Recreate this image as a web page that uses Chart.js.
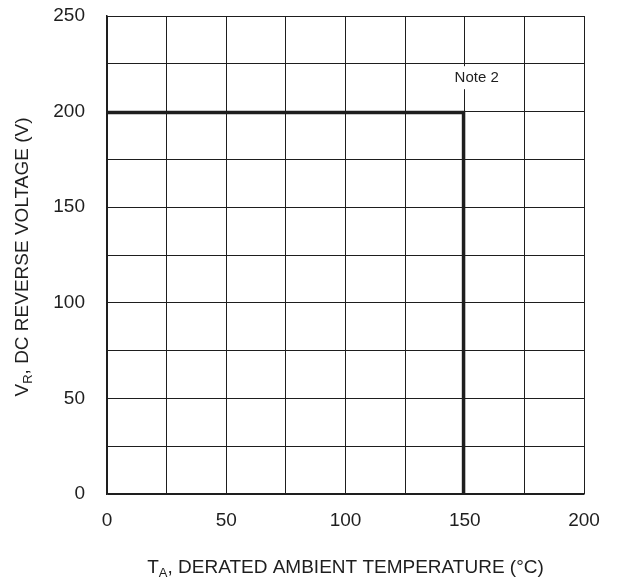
<!DOCTYPE html>
<html lang="en">
<head>
<meta charset="UTF-8">
<title>Derating curve</title>
<script src="https://cdn.jsdelivr.net/npm/chart.js@4/dist/chart.umd.min.js"></script>
<style>
  body { margin: 0; background: #fff; }
</style>
</head>
<body>
<canvas id="myChart" width="618" height="577"></canvas>
<script>
// curve data
var tempC = [0, 149.5, 149.5];
var voltV = [199.5, 199.5, 0];

// axis ranges / ticks
var xMin = 0, xMax = 200, xStep = 25, xLabelEvery = 50;
var yMin = 0, yMax = 250, yStep = 25, yLabelEvery = 50;

// note text and where it sits (data units)
var noteText = 'Note 2';
var noteX = 155, noteY = 218;

var FONT = '"Liberation Sans", Arial, Helvetica, sans-serif';
var INK = '#1e1e1e';

var pts = [];
for (var i = 0; i < tempC.length; i++) pts.push({x: tempC[i], y: voltV[i]});

// draw text with a subscript part, centered at 0,0 of current transform
function drawRich(ctx, parts, size) {
    var subSize = Math.round(size * 0.66);
    var w = 0;
    parts.forEach(function(p) {
        ctx.font = (p.sub ? subSize : size) + 'px ' + FONT;
        p.w = ctx.measureText(p.t).width;
        w += p.w;
    });
    var x = -w / 2;
    ctx.textBaseline = 'alphabetic';
    ctx.textAlign = 'left';
    parts.forEach(function(p) {
        ctx.font = (p.sub ? subSize : size) + 'px ' + FONT;
        ctx.fillText(p.t, x, p.sub ? 4 : 0);
        x += p.w;
    });
}

var titlesPlugin = {
    id: 'titles',
    afterDraw: function(chart) {
        var ctx = chart.ctx;
        var a = chart.chartArea;
        var xs = chart.scales.x, ys = chart.scales.y;
        ctx.save();
        ctx.fillStyle = INK;
        // x title
        ctx.save();
        ctx.translate((a.left + a.right) / 2, 573);
        drawRich(ctx, [{t: 'T'}, {t: 'A', sub: true}, {t: ', DERATED AMBIENT TEMPERATURE (°C)'}], 19);
        ctx.restore();
        // y title
        ctx.save();
        ctx.translate(28, (a.top + a.bottom) / 2 + 2);
        ctx.rotate(-Math.PI / 2);
        drawRich(ctx, [{t: 'V'}, {t: 'R', sub: true}, {t: ', DC REVERSE VOLTAGE (V)'}], 19);
        ctx.restore();
        // note box
        var nx = xs.getPixelForValue(noteX), ny = ys.getPixelForValue(noteY);
        ctx.font = '15px ' + FONT;
        var tw = ctx.measureText(noteText).width;
        ctx.fillStyle = '#fff';
        ctx.fillRect(nx - tw / 2 - 6, ny - 11, tw + 12, 23);
        ctx.fillStyle = INK;
        ctx.textAlign = 'center';
        ctx.textBaseline = 'middle';
        ctx.fillText(noteText, nx, ny + 1);
        ctx.restore();
    }
};

var ctx = document.getElementById('myChart').getContext('2d');
var myChart = new Chart(ctx, {
    type: 'line',
    data: {
        datasets: [{
            data: pts,
            borderColor: INK,
            borderWidth: 3.5,
            pointRadius: 0,
            fill: false,
            tension: 0
        }]
    },
    options: {
        responsive: false,
        devicePixelRatio: 1,
        animation: false,
        layout: { padding: { top: 16, right: 34, left: 0, bottom: 0 } },
        plugins: {
            legend: { display: false },
            tooltip: { enabled: false }
        },
        scales: {
            x: {
                type: 'linear',
                min: xMin, max: xMax,
                afterFit: function(s) {
                    s.height = 83;
                    s.paddingLeft = 0; s.paddingRight = 0;
                },
                grid: { color: INK, lineWidth: 1, drawTicks: false },
                border: { color: INK, width: 1.5 },
                ticks: {
                    stepSize: xStep,
                    padding: 15,
                    color: INK,
                    maxRotation: 0,
                    autoSkip: false,
                    font: { family: FONT, size: 19 },
                    callback: function(v) { return v % xLabelEvery === 0 ? v : ''; }
                }
            },
            y: {
                type: 'linear',
                min: yMin, max: yMax,
                afterFit: function(s) {
                    s.width = 107;
                    s.paddingTop = 0; s.paddingBottom = 0;
                },
                grid: { color: INK, lineWidth: 1, drawTicks: false },
                border: { color: INK, width: 1.5 },
                ticks: {
                    stepSize: yStep,
                    padding: 22,
                    color: INK,
                    autoSkip: false,
                    font: { family: FONT, size: 19 },
                    callback: function(v) { return v % yLabelEvery === 0 ? v : ''; }
                }
            }
        }
    },
    plugins: [titlesPlugin]
});
</script>
</body>
</html>
